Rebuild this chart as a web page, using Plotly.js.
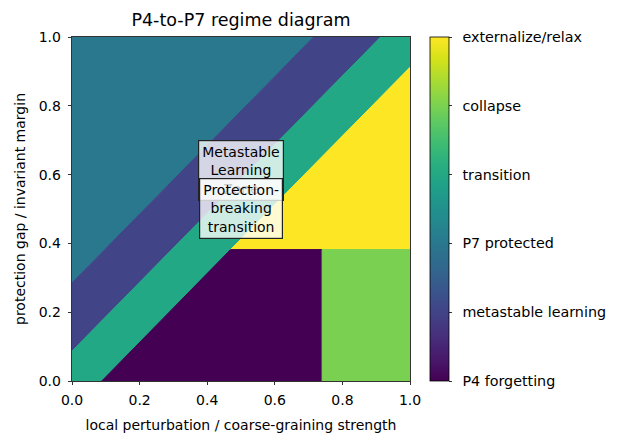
<!DOCTYPE html>
<html>
<head>
<meta charset="utf-8">
<script src="https://cdn.plot.ly/plotly-3.0.1.min.js"></script>
<style>html,body{margin:0;padding:0;background:#fff;}#chart{width:638px;height:433px;}</style>
</head>
<body>
<div id="chart"></div>
<script>
// ---- Data ----
const regimeCodes = [0, 1, 2, 3, 4, 5];
const regimeLabels = ["P4 forgetting", "metastable learning", "P7 protected", "transition", "collapse", "externalize/relax"];

// Region boundary polygons (x: perturbation strength, y: protection gap)
const p7ProtectedX = [0, 0, 0.715, 0];
const p7ProtectedY = [0.285, 1, 1, 0.285];
const metastableX = [0, 0, 0.715, 0.913, 0];
const metastableY = [0.087, 0.285, 1, 1, 0.087];
const transitionX = [0, 0.088, 1, 1, 0.913, 0, 0];
const transitionY = [0, 0, 0.912, 1, 1, 0.087, 0];
const externalizeX = [0.469, 1, 1, 0.469];
const externalizeY = [0.382, 0.382, 0.912, 0.382];
const p4ForgettingX = [0.088, 0.74, 0.74, 0.469, 0.088];
const p4ForgettingY = [0, 0, 0.382, 0.382, 0];
const collapseX = [0.74, 1, 1, 0.74, 0.74];
const collapseY = [0, 0, 0.382, 0.382, 0];

const annotationTexts = ["Metastable<br>Learning<br>Zone", "Protection-<br>breaking<br>transition"];
const annotationX = [0.5, 0.5];
const annotationY = [0.612, 0.502];

// ---- Styles ----
const regimeColors = ["#440154", "#414487", "#2a788e", "#22a884", "#7ad151", "#fde725"];
const FONT = "DejaVu Sans, Liberation Sans, sans-serif";
const LABEL_GAP = "\u2002";

function region(x, y, code) {
  return {
    type: "scatter", mode: "lines", x: x, y: y, fill: "toself",
    fillcolor: regimeColors[code], line: {color: regimeColors[code], width: 1},
    hoverinfo: "skip", showlegend: false
  };
}

const traces = [
  region(p7ProtectedX, p7ProtectedY, 2),
  region(metastableX, metastableY, 1),
  region(transitionX, transitionY, 3),
  region(externalizeX, externalizeY, 5),
  region(p4ForgettingX, p4ForgettingY, 0),
  region(collapseX, collapseY, 4),
  {
    type: "scatter", mode: "markers",
    x: regimeCodes.map(() => 0.5), y: regimeCodes.map(() => 0.5),
    marker: {
      color: regimeCodes, colorscale: "Viridis", cmin: 0, cmax: 5, opacity: 0, size: 1,
      showscale: true,
      colorbar: {
        x: 1.0596, xref: "paper", xanchor: "left", xpad: 0,
        y: 0.5, yanchor: "middle", len: 1, lenmode: "fraction", ypad: 0,
        thickness: 19, thicknessmode: "pixels",
        outlinecolor: "#000", outlinewidth: 0.8,
        tickmode: "array", tickvals: regimeCodes,
        ticktext: regimeLabels.map(s => LABEL_GAP + s),
        ticks: "outside", ticklen: 3.5, tickwidth: 0.8, tickcolor: "#000",
        tickfont: {family: FONT, size: 14.3, color: "#000"}
      }
    },
    hoverinfo: "skip", showlegend: false
  }
];

const annotations = annotationTexts.map((t, i) => ({
  x: annotationX[i], y: annotationY[i], xref: "x", yref: "y",
  text: t, showarrow: false, xanchor: "center", yanchor: "middle",
  font: {family: FONT, size: 14, color: "#000"},
  bgcolor: "rgba(255,255,255,0.78)", bordercolor: "#222", borderwidth: 1.2, borderpad: 3
}));

const axisCommon = {
  range: [0, 1], dtick: 0.2, tick0: 0, tickformat: ".1f",
  showgrid: false, zeroline: false,
  showline: true, mirror: true, linecolor: "#000", linewidth: 0.8,
  ticks: "outside", ticklen: 3.5, tickwidth: 0.8, tickcolor: "#000",
  tickfont: {family: FONT, size: 14, color: "#000"},
  fixedrange: true
};

const layout = {
  width: 638, height: 433,
  margin: {l: 71.5, r: 227.5, t: 37, b: 51.5, pad: 0},
  paper_bgcolor: "#fff", plot_bgcolor: "#fff",
  title: {
    text: "P4-to-P7 regime diagram",
    font: {family: FONT, size: 17.5, color: "#000"},
    x: 0.5, xref: "paper", xanchor: "center",
    y: 0.953, yref: "container", yanchor: "middle"
  },
  xaxis: Object.assign({}, axisCommon, {
    ticklabelstandoff: 3,
    title: {text: "local perturbation / coarse-graining strength", font: {family: FONT, size: 14, color: "#000"}, standoff: 14}
  }),
  yaxis: Object.assign({}, axisCommon, {
    ticklabelstandoff: 4,
    title: {text: "protection gap / invariant margin", font: {family: FONT, size: 14, color: "#000"}, standoff: 9}
  }),
  annotations: annotations,
  showlegend: false
};

Plotly.newPlot("chart", traces, layout, {displayModeBar: false, staticPlot: true});
</script>
</body>
</html>
